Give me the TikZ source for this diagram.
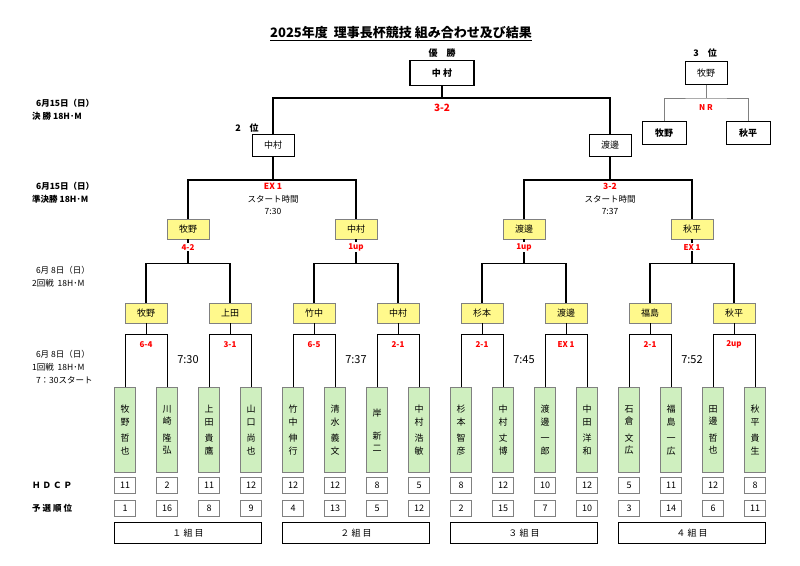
\documentclass[tikz,border=0pt]{standalone}
\usepackage{fontspec}
\setmainfont{Noto Sans CJK JP}
\begin{document}
\begin{tikzpicture}[x=1pt, y=-1pt,
  every node/.style={font=\fontsize{9}{11}\selectfont, inner sep=0pt},
  wbox/.style={draw, fill=white, minimum width=42pt, minimum height=22pt},
  ybox/.style={draw=gray, fill=yellow!45, minimum width=42pt, minimum height=20pt},
  pbox/.style={draw=gray, fill=green!50!olive!25, minimum width=21pt, minimum height=85pt, align=center, font=\fontsize{9}{12.5}\selectfont},
  nbox/.style={draw=gray, fill=white, minimum width=21pt, minimum height=16pt},
  gbox/.style={draw, minimum width=147pt, minimum height=21pt},
  score/.style={text=red, font=\bfseries\fontsize{8}{10}\selectfont},
  brk/.style={draw, line width=1.2pt},
  lnk/.style={draw, line width=0.7pt}]
\useasboundingbox (0,0) rectangle (800,565);
% title
\node (title) at (401,34) {\fontsize{13}{15}\selectfont\bfseries\underline{2025年度\ \ 理事長杯競技 組み合わせ及び結果}};
% left labels
\node[anchor=west, align=left, font=\bfseries\fontsize{8.5}{13}\selectfont] (dF) at (32,110) {\ \ 6月15日（日）\\決\ 勝 18H･M};
\node[anchor=west, align=left, font=\bfseries\fontsize{8.5}{13}\selectfont] (dS) at (32,193) {\ \ 6月15日（日）\\準決勝 18H･M};
\node[anchor=west, align=left, font=\fontsize{8.5}{13}\selectfont] (d2) at (32,277) {\ \ 6月\ 8日（日）\\2回戦\ \ 18H･M};
\node[anchor=west, align=left, font=\fontsize{8.5}{13}\selectfont] (d1) at (32,367) {\ \ 6月\ 8日（日）\\1回戦\ \ 18H･M\\\ \ 7：30スタート};
\node[anchor=west, font=\bfseries\fontsize{8.5}{11}\selectfont] (hd) at (32,485) {Ｈ\ Ｄ\ Ｃ\ Ｐ};
\node[anchor=west, font=\bfseries\fontsize{8.5}{11}\selectfont] (ys) at (32,508) {予\ 選\ 順\ 位};
% final
\node (yu) at (442,53) {\bfseries 優\quad 勝};
\node[wbox, minimum width=64pt, minimum height=25pt, line width=1.2pt] (W) at (442,73) {\bfseries 中 村};
\node (sec) at (247,128) {\bfseries 2\quad 位};
\node[wbox] (F1) at (273,145) {中村};
\node[wbox] (F2) at (610,145) {渡邊};
\draw[brk] (W.south) -- (442,98) coordinate (fc);
\draw[brk] (F1.north) |- (fc) -| (F2.north);
\node[score, font=\bfseries\fontsize{10}{12}\selectfont] (sF) at (442,108) {3-2};
% third place
\node (th) at (705,53) {\bfseries 3\quad 位};
\node[wbox, minimum height=23pt] (T) at (706,73) {牧野};
\node[wbox, minimum width=44pt, minimum height=23pt] (T1) at (664,133) {\bfseries 牧野};
\node[wbox, minimum width=44pt, minimum height=23pt] (T2) at (748,133) {\bfseries 秋平};
\draw[lnk, gray] (T.south) -- (706,98) coordinate (tc);
\draw[lnk, gray] (T1.north) |- (tc) -| (T2.north);
\node[score] (sT) at (706,108) {N R};
% semifinals
\foreach \n/\x/\nm in {1/188/牧野, 2/356/中村, 3/524/渡邊, 4/692/秋平}
  \node[ybox] (S\n) at (\x,229) {\nm};
\draw[brk] (F1.south) -- (273,180) coordinate (c1);
\draw[brk] (S1.north) |- (c1) -| (S2.north);
\draw[brk] (F2.south) -- (610,180) coordinate (c2);
\draw[brk] (S3.north) |- (c2) -| (S4.north);
\node[align=center, font=\fontsize{8.5}{12.5}\selectfont] (t1) at (273,199) {\textcolor{red}{\bfseries EX 1}\\スタート時間\\7:30};
\node[align=center, font=\fontsize{8.5}{12.5}\selectfont] (t2) at (610,199) {\textcolor{red}{\bfseries 3-2}\\スタート時間\\7:37};
% second round
\foreach \n/\x/\nm in {1/146/牧野, 2/230/上田, 3/314/竹中, 4/398/中村, 5/482/杉本, 6/566/渡邊, 7/650/福島, 8/734/秋平}
  \node[ybox] (Q\n) at (\x,313) {\nm};
\foreach \s/\a/\b/\r in {1/1/2/4-2, 2/3/4/1up, 3/5/6/1up, 4/7/8/EX 1} {
  \draw[brk] (S\s.south) -- ++(0,24) coordinate (q\s);
  \draw[brk] (Q\a.north) |- (q\s) -| (Q\b.north);
  \node[score, fill=white, inner sep=1pt] at ([yshift=-8]S\s.south) {\r};
}
% first round
\foreach \n/\x/\fa/\fb/\ga/\gb/\h/\o in {
  1/125/牧/野/哲/也/11/1, 2/167/川/崎/隆/弘/2/16, 3/209/上/田/貴/鷹/11/8, 4/251/山/口/尚/也/12/9,
  5/293/竹/中/伸/行/12/4, 6/335/清/水/義/文/12/13, 7/377/{\raisebox{-6pt}{岸}}/{}/新/二/8/5, 8/419/中/村/浩/敏/5/12,
  9/461/杉/本/智/彦/8/2, 10/503/中/村/丈/博/12/15, 11/545/渡/邊/一/郎/10/7, 12/587/中/田/洋/和/12/10,
  13/629/石/倉/文/広/5/3, 14/671/福/島/一/広/11/14, 15/713/田/邊/哲/也/12/6, 16/755/秋/平/貴/生/8/11} {
  \node[pbox] (P\n) at (\x,430) {\fa\\\fb\\[4pt]\ga\\\gb};
  \node[nbox] (H\n) at (\x,485) {\h};
  \node[nbox] (R\n) at (\x,508) {\o};
}
\foreach \q/\a/\b/\r in {1/1/2/6-4, 2/3/4/3-1, 3/5/6/6-5, 4/7/8/2-1, 5/9/10/2-1, 6/11/12/EX 1, 7/13/14/2-1, 8/15/16/2up} {
  \draw[lnk] (Q\q.south) -- ++(0,11) coordinate (p\q);
  \draw[lnk] (P\a.north) |- (p\q) -| (P\b.north);
  \node[score] at ([yshift=-10]p\q) {\r};
}
\foreach \x/\t in {188/7:30, 356/7:37, 524/7:45, 692/7:52}
  \node[font=\fontsize{11}{13}\selectfont] at (\x,360) {\t};
% groups
\foreach \n/\x/\t in {1/188/１\ 組\ 目, 2/356/２\ 組\ 目, 3/524/３\ 組\ 目, 4/692/４\ 組\ 目}
  \node[gbox] (G\n) at (\x,533) {\t};
\end{tikzpicture}
\end{document}
